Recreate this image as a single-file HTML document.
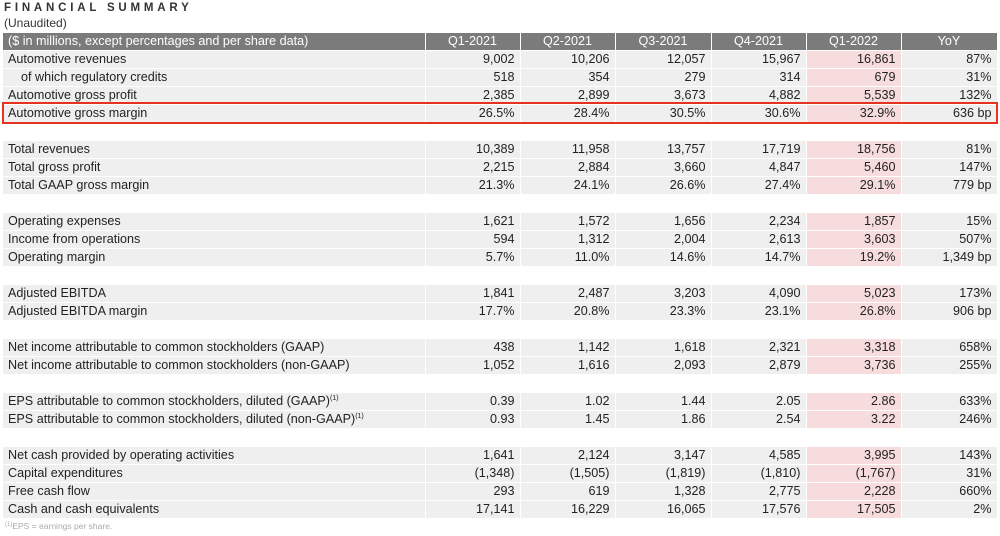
<!DOCTYPE html>
<html><head><meta charset="utf-8"><style>
body{margin:0;width:1000px;height:536px;background:#fff;font-family:"Liberation Sans",sans-serif;position:relative;overflow:hidden;color:#222}
.t{position:absolute;left:4px;top:2px;font-size:11.5px;letter-spacing:3.8px;color:#333;font-weight:bold}
.u{position:absolute;left:4px;top:16px;font-size:12px;color:#333}
table{position:absolute;left:3px;top:33px;border-collapse:collapse;table-layout:fixed;width:994px;font-size:12.6px}
td{height:18px;max-height:18px;padding:0 5px 0 5px;border:1px solid #fff;border-width:0 1px 1px 0;background:#efefef;text-align:right;white-space:nowrap;box-sizing:border-box;line-height:17px;overflow:hidden}
td:first-child{text-align:left;padding-left:5px}
tr.h td{background:#7b7b7b;color:#fff;text-align:center;height:17px}
tr.h td:first-child{text-align:left}
tr.b td{background:#fff}
td.p{background:#f6dcdc}
tr.h td.p{background:#7b7b7b}
.in{padding-left:18px!important}
sup{font-size:7px;line-height:0;position:relative;top:-5px;vertical-align:baseline}
.box{position:absolute;left:2px;top:102px;width:992px;height:18px;border:2px solid #e4341f}
.f{position:absolute;left:5px;top:521px;font-size:8.5px;color:#aaa}
.f sup{top:-3px;font-size:6px}
</style></head><body>
<div class="t">FINANCIAL SUMMARY</div>
<div class="u">(Unaudited)</div>
<table>
<colgroup><col style="width:422px"><col style="width:95px"><col style="width:95px"><col style="width:96px"><col style="width:95px"><col style="width:95px"><col style="width:96px"></colgroup>
<tr class="h"><td>($ in millions, except percentages and per share data)</td><td>Q1-2021</td><td>Q2-2021</td><td>Q3-2021</td><td>Q4-2021</td><td class="p">Q1-2022</td><td>YoY</td></tr>
<tr><td>Automotive revenues</td><td>9,002</td><td>10,206</td><td>12,057</td><td>15,967</td><td class="p">16,861</td><td>87%</td></tr>
<tr><td class="in">of which regulatory credits</td><td>518</td><td>354</td><td>279</td><td>314</td><td class="p">679</td><td>31%</td></tr>
<tr><td>Automotive gross profit</td><td>2,385</td><td>2,899</td><td>3,673</td><td>4,882</td><td class="p">5,539</td><td>132%</td></tr>
<tr><td>Automotive gross margin</td><td>26.5%</td><td>28.4%</td><td>30.5%</td><td>30.6%</td><td class="p">32.9%</td><td>636 bp</td></tr>
<tr class="b"><td></td><td></td><td></td><td></td><td></td><td></td><td></td></tr>
<tr><td>Total revenues</td><td>10,389</td><td>11,958</td><td>13,757</td><td>17,719</td><td class="p">18,756</td><td>81%</td></tr>
<tr><td>Total gross profit</td><td>2,215</td><td>2,884</td><td>3,660</td><td>4,847</td><td class="p">5,460</td><td>147%</td></tr>
<tr><td>Total GAAP gross margin</td><td>21.3%</td><td>24.1%</td><td>26.6%</td><td>27.4%</td><td class="p">29.1%</td><td>779 bp</td></tr>
<tr class="b"><td></td><td></td><td></td><td></td><td></td><td></td><td></td></tr>
<tr><td>Operating expenses</td><td>1,621</td><td>1,572</td><td>1,656</td><td>2,234</td><td class="p">1,857</td><td>15%</td></tr>
<tr><td>Income from operations</td><td>594</td><td>1,312</td><td>2,004</td><td>2,613</td><td class="p">3,603</td><td>507%</td></tr>
<tr><td>Operating margin</td><td>5.7%</td><td>11.0%</td><td>14.6%</td><td>14.7%</td><td class="p">19.2%</td><td>1,349 bp</td></tr>
<tr class="b"><td></td><td></td><td></td><td></td><td></td><td></td><td></td></tr>
<tr><td>Adjusted EBITDA</td><td>1,841</td><td>2,487</td><td>3,203</td><td>4,090</td><td class="p">5,023</td><td>173%</td></tr>
<tr><td>Adjusted EBITDA margin</td><td>17.7%</td><td>20.8%</td><td>23.3%</td><td>23.1%</td><td class="p">26.8%</td><td>906 bp</td></tr>
<tr class="b"><td></td><td></td><td></td><td></td><td></td><td></td><td></td></tr>
<tr><td>Net income attributable to common stockholders (GAAP)</td><td>438</td><td>1,142</td><td>1,618</td><td>2,321</td><td class="p">3,318</td><td>658%</td></tr>
<tr><td>Net income attributable to common stockholders (non-GAAP)</td><td>1,052</td><td>1,616</td><td>2,093</td><td>2,879</td><td class="p">3,736</td><td>255%</td></tr>
<tr class="b"><td></td><td></td><td></td><td></td><td></td><td></td><td></td></tr>
<tr><td>EPS attributable to common stockholders, diluted (GAAP)<sup>(1)</sup></td><td>0.39</td><td>1.02</td><td>1.44</td><td>2.05</td><td class="p">2.86</td><td>633%</td></tr>
<tr><td>EPS attributable to common stockholders, diluted (non-GAAP)<sup>(1)</sup></td><td>0.93</td><td>1.45</td><td>1.86</td><td>2.54</td><td class="p">3.22</td><td>246%</td></tr>
<tr class="b"><td></td><td></td><td></td><td></td><td></td><td></td><td></td></tr>
<tr><td>Net cash provided by operating activities</td><td>1,641</td><td>2,124</td><td>3,147</td><td>4,585</td><td class="p">3,995</td><td>143%</td></tr>
<tr><td>Capital expenditures</td><td>(1,348)</td><td>(1,505)</td><td>(1,819)</td><td>(1,810)</td><td class="p">(1,767)</td><td>31%</td></tr>
<tr><td>Free cash flow</td><td>293</td><td>619</td><td>1,328</td><td>2,775</td><td class="p">2,228</td><td>660%</td></tr>
<tr><td>Cash and cash equivalents</td><td>17,141</td><td>16,229</td><td>16,065</td><td>17,576</td><td class="p">17,505</td><td>2%</td></tr>
</table>
<div class="box"></div>
<div class="f"><sup>(1)</sup>EPS = earnings per share.</div>
</body></html>
